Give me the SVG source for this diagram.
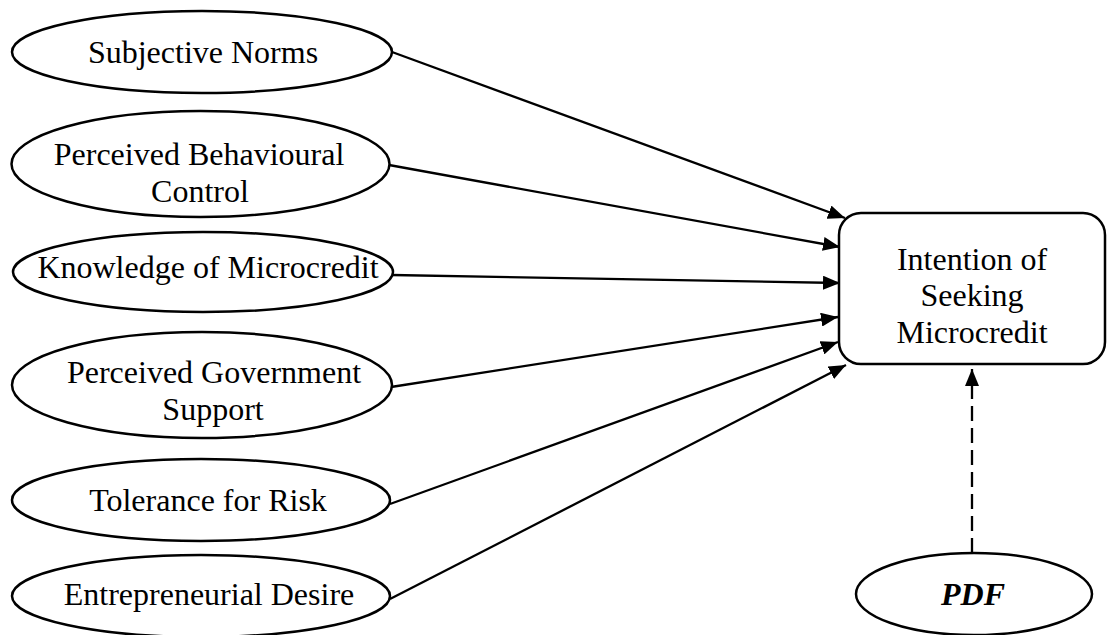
<svg xmlns="http://www.w3.org/2000/svg" width="1108" height="635" viewBox="0 0 1108 635">
<style>
.n{fill:#fff;stroke:#000;stroke-width:2.5}
.t{font-family:"Liberation Serif","Times New Roman",serif;font-size:32px;fill:#000;text-anchor:middle}
.c{stroke:#000;stroke-width:2.3;fill:none}
.d{stroke-dasharray:15 7}
</style>
<defs>
<marker id="ah" markerUnits="userSpaceOnUse" markerWidth="18" markerHeight="14" refX="17" refY="7" orient="auto">
<path d="M0,0 L17,7 L0,14 z" fill="#000"/>
</marker>
</defs>
<rect width="1108" height="635" fill="#fff"/>
<g id="connectors">
<line class="c" x1="392" y1="52" x2="845" y2="218" marker-end="url(#ah)"/>
<line class="c" x1="389" y1="165" x2="840" y2="247" marker-end="url(#ah)"/>
<line class="c" x1="392" y1="275" x2="840" y2="283" marker-end="url(#ah)"/>
<line class="c" x1="391" y1="387" x2="838" y2="317" marker-end="url(#ah)"/>
<line class="c" x1="390" y1="504" x2="838" y2="342" marker-end="url(#ah)"/>
<line class="c" x1="390" y1="599" x2="846" y2="365" marker-end="url(#ah)"/>
<line class="c d" x1="972" y1="553" x2="972" y2="369" marker-end="url(#ah)"/>
</g>
<g id="subjective-norms">
<ellipse class="n" cx="202" cy="52" rx="190" ry="41"/>
<text class="t" x="203" y="63">Subjective Norms</text>
</g>
<g id="perceived-behavioural-control">
<ellipse class="n" cx="200.5" cy="164" rx="189" ry="53"/>
<text class="t" x="199" y="165">Perceived Behavioural</text>
<text class="t" x="200" y="202">Control</text>
</g>
<g id="knowledge-of-microcredit">
<ellipse class="n" cx="203" cy="272" rx="190" ry="40"/>
<text class="t" x="208" y="278">Knowledge of Microcredit</text>
</g>
<g id="perceived-government-support">
<ellipse class="n" cx="202" cy="385" rx="190" ry="53"/>
<text class="t" x="214" y="383">Perceived Government</text>
<text class="t" x="213" y="420">Support</text>
</g>
<g id="tolerance-for-risk">
<ellipse class="n" cx="201" cy="500" rx="189" ry="41"/>
<text class="t" x="208" y="511">Tolerance for Risk</text>
</g>
<g id="entrepreneurial-desire">
<ellipse class="n" cx="201" cy="596" rx="189" ry="41"/>
<text class="t" x="209" y="605">Entrepreneurial Desire</text>
</g>
<g id="intention">
<rect class="n" x="839" y="213" width="266" height="151" rx="22" ry="22"/>
<text class="t" x="972" y="270">Intention of</text>
<text class="t" x="972" y="306">Seeking</text>
<text class="t" x="972" y="343">Microcredit</text>
</g>
<g id="pdf">
<ellipse class="n" cx="974" cy="594" rx="118" ry="41"/>
<text class="t" x="973" y="605" font-weight="bold" font-style="italic">PDF</text>
</g>
</svg>
